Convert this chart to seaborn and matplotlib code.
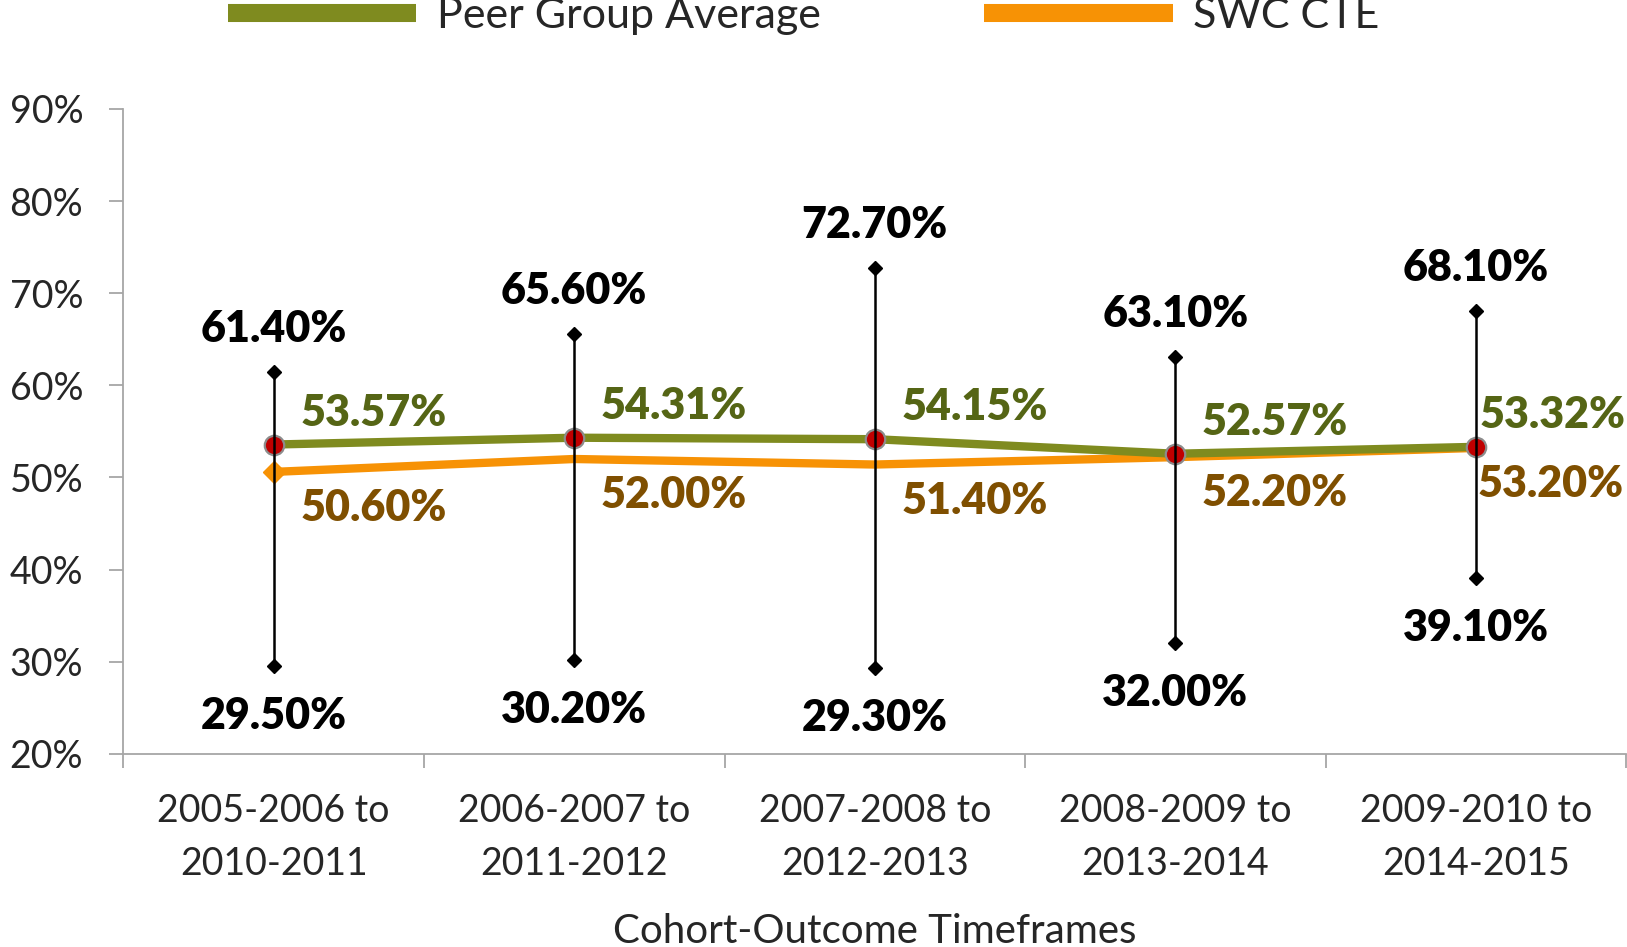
import numpy as np
import pandas as pd
import matplotlib
matplotlib.use("Agg")
import matplotlib.pyplot as plt
import seaborn as sns

# chart values
cohorts = ["2005-2006 to\n2010-2011", "2006-2007 to\n2011-2012", "2007-2008 to\n2012-2013",
           "2008-2009 to\n2013-2014", "2009-2010 to\n2014-2015"]
peer_avg = [53.57, 54.31, 54.15, 52.57, 53.32]
swc_cte = [50.60, 52.00, 51.40, 52.20, 53.20]
peer_max = [61.40, 65.60, 72.70, 63.10, 68.10]
peer_min = [29.50, 30.20, 29.30, 32.00, 39.10]
yticks = [20, 30, 40, 50, 60, 70, 80, 90]

green = "#7F8B1F"
orange = "#F79205"
green_txt = "#556515"
orange_txt = "#7F4F00"
axis_gray = "#A6A6A6"

sns.set_theme(style="white")
plt.rcParams['font.family'] = ['Lato', 'DejaVu Sans']

df = pd.DataFrame({"x": np.arange(len(cohorts)), "Peer Group Average": peer_avg, "SWC CTE": swc_cte})
long = df.melt(id_vars="x", var_name="series", value_name="pct")

fig = plt.figure(figsize=(16.27, 9.47), dpi=100)
ax = fig.add_axes([0.0759, 0.204, 0.9235, 0.681])

sns.lineplot(data=long, x="x", y="pct", hue="series", hue_order=["SWC CTE", "Peer Group Average"],
             palette={"Peer Group Average": green, "SWC CTE": orange}, lw=6, ax=ax, legend=False,
             zorder=2)
# orange diamond only visible at first point
ax.plot(df["x"][:1], swc_cte[:1], ls="none", marker="D", ms=11, color=orange, zorder=2)
# red mean markers
ax.plot(df["x"], peer_avg, ls="none", marker="o", ms=14, mfc="#C00000", mec="#8C8C8C", mew=1.6, zorder=3)
# high-low range
ax.vlines(df["x"], peer_min, peer_max, color="black", lw=1.8, zorder=4)
ax.plot(df["x"], peer_max, ls="none", marker="D", ms=7, color="black", zorder=4)
ax.plot(df["x"], peer_min, ls="none", marker="D", ms=7, color="black", zorder=4)

lbl = dict(fontsize=31, fontweight="heavy", textcoords="offset points")
for i in range(len(cohorts)):
    gx = 3 if i == len(cohorts) - 1 else 19
    ox = 1 if i == len(cohorts) - 1 else 19
    ax.annotate(f"{peer_avg[i]:.2f}%", (i, peer_avg[i]), xytext=(gx, 23), ha="left", va="center",
                color=green_txt, **lbl)
    ax.annotate(f"{swc_cte[i]:.2f}%", (i, swc_cte[i]), xytext=(ox, -26), ha="left", va="center",
                color=orange_txt, **lbl)
    ax.annotate(f"{peer_max[i]:.2f}%", (i, peer_max[i]), xytext=(0, 31), ha="center", va="center",
                color="black", **lbl)
    ax.annotate(f"{peer_min[i]:.2f}%", (i, peer_min[i]), xytext=(0, -36), ha="center", va="center",
                color="black", **lbl)

ax.set_xlim(-0.5, len(cohorts) - 0.5)
ax.set_ylim(20, 90)
ax.set_yticks(yticks)
ax.set_yticklabels([f"{t}%" for t in yticks])
ax.set_xticks(np.arange(-0.5, len(cohorts)), labels=[])
ax.set_xticks(np.arange(len(cohorts)), labels=cohorts, minor=True)
ax.tick_params(axis="x", which="major", length=10, width=1.3, color=axis_gray, direction="out", bottom=True)
ax.tick_params(axis="x", which="minor", length=0, pad=28, labelsize=27, bottom=True)
ax.tick_params(axis="y", length=10, width=1.3, color=axis_gray, direction="out", pad=19, labelsize=27, left=True)
for t in ax.get_xticklabels(minor=True):
    t.set_linespacing(1.6)
ax.set_xlabel("Cohort-Outcome Timeframes", fontsize=29, labelpad=22)
ax.set_ylabel("")
for side in ["top", "right"]:
    ax.spines[side].set_visible(False)
for side in ["left", "bottom"]:
    ax.spines[side].set_color(axis_gray)
    ax.spines[side].set_linewidth(1.3)

handles = [plt.Line2D([], [], color=green, lw=13, solid_capstyle="butt"),
           plt.Line2D([], [], color=orange, lw=13, solid_capstyle="butt")]
fig.legend(handles, ["Peer Group Average", "SWC CTE"], loc="center", bbox_to_anchor=(0.494, 1 - 16 / 947),
           ncol=2, frameon=False, fontsize=31, handlelength=4.37, handletextpad=0.48, columnspacing=3.8)

fig.savefig("out.png", dpi=100)
